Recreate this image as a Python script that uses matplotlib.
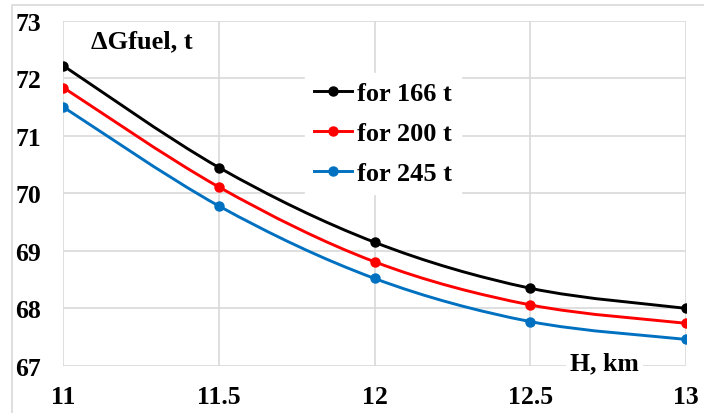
import matplotlib.pyplot as plt
import numpy as np
from matplotlib.path import Path
from matplotlib.patches import PathPatch, Rectangle
from matplotlib.lines import Line2D

plt.rcParams['font.family'] = ['Liberation Serif', 'DejaVu Serif']
plt.rcParams['font.weight'] = 'bold'

H = [11, 11.5, 12, 12.5, 13]  # km
g166 = [72.22, 70.45, 69.15, 68.35, 68.00]
g200 = [71.84, 70.11, 68.81, 68.06, 67.74]
g245 = [71.50, 69.78, 68.52, 67.77, 67.46]

labels = ['for 166 t', 'for 200 t', 'for 245 t']
colors = ['black', '#ff0000', '#0070c0']


def smooth_path(x, y):
    # excel-like smoothed line: cubic bezier through the points
    x = np.asarray(x, float)
    y = np.asarray(y, float)
    px = np.concatenate([[x[0]], x, [x[-1]]])
    py = np.concatenate([[y[0]], y, [y[-1]]])
    verts = [(x[0], y[0])]
    codes = [Path.MOVETO]
    for i in range(1, len(x)):
        c1 = (px[i] + (px[i + 1] - px[i - 1]) / 6, py[i] + (py[i + 1] - py[i - 1]) / 6)
        c2 = (px[i + 1] - (px[i + 2] - px[i]) / 6, py[i + 1] - (py[i + 2] - py[i]) / 6)
        verts += [c1, c2, (x[i], y[i])]
        codes += [Path.CURVE4] * 3
    return Path(verts, codes)


fig = plt.figure(figsize=(7.04, 4.14), dpi=100)
ax = fig.add_axes([0.09, 0.114, 0.884, 0.833])

# outer chart border
fig.patches.append(Rectangle((12 / 704, -0.01), 1.0, 1 - 6 / 414 + 0.01, transform=fig.transFigure,
                             fill=False, edgecolor='#d9d9d9', linewidth=1.2))

for yv, c, lab in zip([g166, g200, g245], colors, labels):
    ax.add_patch(PathPatch(smooth_path(H, yv), facecolor='none', edgecolor=c, linewidth=2.1, zorder=3))
    ax.plot(H, yv, 'o', color=c, markersize=6.5, zorder=4)

ax.set_xlim(11, 13)
ax.set_ylim(67, 73)
ax.set_xticks(H)
ax.set_xticklabels(['11', '11.5', '12', '12.5', '13'])
ax.set_yticks(range(67, 74))
ax.grid(True, color='#d9d9d9', linewidth=1.2)
ax.set_axisbelow(True)
for s in ax.spines.values():
    s.set_visible(False)
ax.tick_params(length=0, labelsize=18.5, pad=14)
ax.tick_params(axis='y', pad=16)
for t in ax.get_xticklabels() + ax.get_yticklabels():
    t.set_fontweight('bold')

ax.text(11.253, 72.66, 'ΔGfuel, t', fontsize=19, fontweight='bold', ha='center', va='center',
        bbox=dict(facecolor='white', edgecolor='none', pad=4), zorder=5, clip_on=False)
ax.text(12.74, 67.06, 'H, km', fontsize=18.5, fontweight='bold', ha='center', va='center',
        bbox=dict(facecolor='white', edgecolor='none', pad=3), zorder=5, clip_on=False)

handles = [Line2D([], [], color=c, linewidth=2.1, marker='o', markersize=6.5) for c in colors]
leg = ax.legend(handles, labels, loc='upper left', bbox_to_anchor=(0.388, 0.85), borderaxespad=0,
                frameon=True, prop={'weight': 'bold', 'size': 19}, handlelength=1.45,
                handletextpad=0.18, labelspacing=0.62, borderpad=0.35, fancybox=False)
leg.get_frame().set_edgecolor('white')
leg.get_frame().set_facecolor('white')
leg.get_frame().set_alpha(1)
leg.set_zorder(5)

fig.savefig('out.png', dpi=100)
